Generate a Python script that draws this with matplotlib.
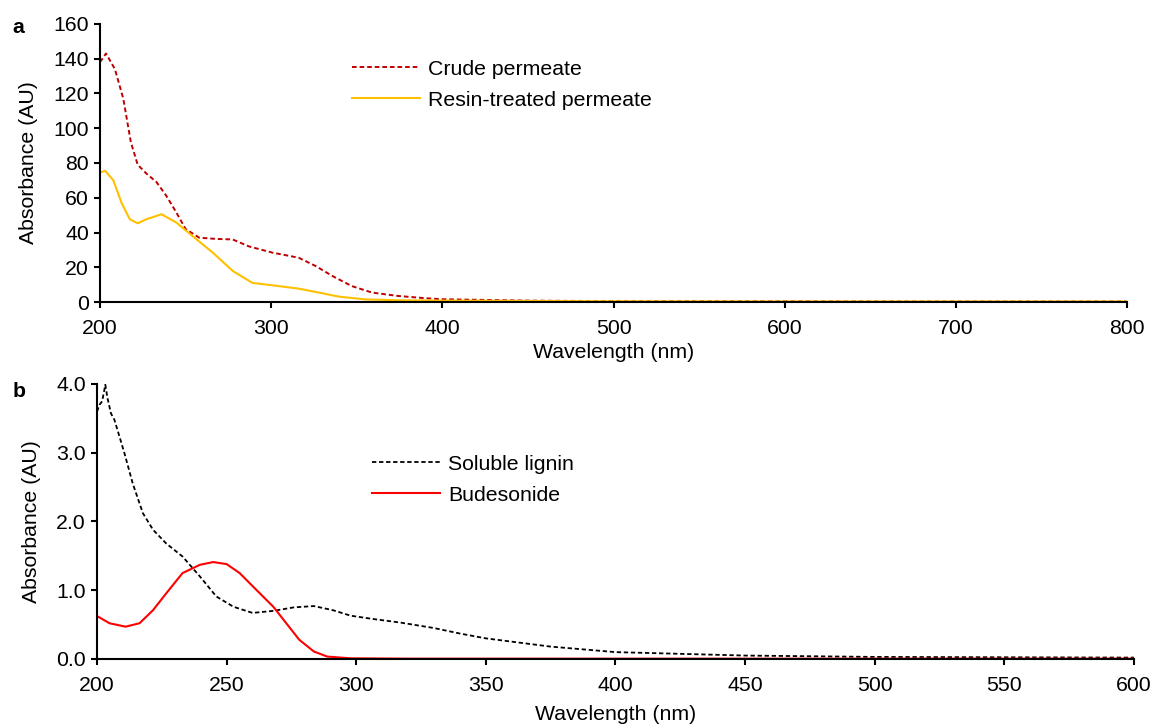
import matplotlib
matplotlib.use("Agg")
import matplotlib.pyplot as plt

plt.rcParams['font.family'] = ['Liberation Sans', 'DejaVu Sans']

# panel a
wl_crude = [200, 203.5, 208.7, 213.6, 218, 222, 227, 233, 238.8, 244.6, 250, 258, 268, 277.5,
            287, 300.8, 316, 326, 335.7, 347, 359, 374, 390, 400, 450, 500, 600, 700, 800]
crude = [138, 143, 134, 117, 92, 79, 74, 69, 61, 51.5, 42, 37, 36.3, 36, 32, 28.4, 25.5, 20.7,
         15, 9.2, 5.4, 3.5, 2.2, 1.6, 0.8, 0.5, 0.4, 0.3, 0.3]
wl_resin = [200, 203, 207.8, 212.6, 217.4, 222, 227, 235.9, 244.6, 254, 265.9, 277.5, 289,
            300.8, 316, 328, 339.5, 355, 375, 400, 500, 600, 700, 800]
resin = [74.5, 75.5, 70, 57, 47.6, 45.3, 47.6, 50.5, 45.7, 38, 28.4, 17.9, 11, 9.6, 7.7, 5.4,
         3.1, 1.5, 1.0, 0.8, 0.4, 0.3, 0.3, 0.3]

# panel b
wl_lignin = [200, 201, 202, 203.2, 204, 205.4, 206.7, 208.7, 210.6, 213.8, 217.7, 221.6, 226.7,
             233, 239.7, 246, 252.6, 260, 268, 275.8, 283.6, 291, 297.8, 306.8, 317, 330, 340,
             350, 375, 400, 450, 500, 600]
lignin = [3.6, 3.7, 3.75, 3.99, 3.8, 3.57, 3.48, 3.23, 2.99, 2.55, 2.12, 1.88, 1.68, 1.49, 1.2,
          0.91, 0.76, 0.67, 0.70, 0.75, 0.77, 0.71, 0.63, 0.58, 0.53, 0.45, 0.37, 0.3, 0.18,
          0.1, 0.05, 0.03, 0.02]
wl_bud = [200, 204.8, 211, 216.4, 221.6, 226.7, 233, 239.7, 244.8, 250, 255, 261.6, 268, 273,
          278, 283.6, 288.8, 297.8, 320, 400, 600]
bud = [0.625, 0.52, 0.47, 0.52, 0.71, 0.955, 1.25, 1.37, 1.41, 1.38, 1.25, 1.0, 0.76, 0.52,
       0.28, 0.11, 0.035, 0.01, 0.005, 0.005, 0.005]

FS = 15.3

fig = plt.figure(figsize=(11.55, 7.26), dpi=100)
ax1 = fig.add_axes([0.0866, 0.584, 0.8892, 0.383])
ax2 = fig.add_axes([0.084, 0.0923, 0.8978, 0.3788])

ax1.plot(wl_crude, crude, color='#C00000', ls=(0, (2.4, 1.5)), lw=1.4, label='Crude permeate')
ax1.plot(wl_resin, resin, color='#FFC000', lw=1.5, label='Resin-treated permeate')
ax1.set_xlim(200, 800)
ax1.set_ylim(0, 160)
ax1.set_xticks(range(200, 801, 100))
ax1.set_yticks(range(0, 161, 20))
ax1.set_xlabel('Wavelength (nm)', fontsize=FS, labelpad=3.6)
ax1.set_ylabel('Absorbance (AU)', fontsize=FS, labelpad=11)
ax1.legend(loc='upper left', bbox_to_anchor=(0.2263, 0.94), frameon=False, fontsize=FS,
           handlelength=3.2, handletextpad=0.38, labelspacing=0.56)

ax2.plot(wl_lignin, lignin, color='black', ls=(0, (2.4, 1.5)), lw=1.3, label='Soluble lignin')
ax2.plot(wl_bud, bud, color='#FF0000', lw=1.5, label='Budesonide')
ax2.set_xlim(200, 600)
ax2.set_ylim(0, 4.0)
ax2.set_xticks(range(200, 601, 50))
ax2.set_yticks([0, 1, 2, 3, 4])
ax2.set_yticklabels(['0.0', '1.0', '2.0', '3.0', '4.0'])
ax2.set_xlabel('Wavelength (nm)', fontsize=FS, labelpad=7)
ax2.set_ylabel('Absorbance (AU)', fontsize=FS, labelpad=11)
ax2.legend(loc='upper left', bbox_to_anchor=(0.247, 0.812), frameon=False, fontsize=FS,
           handlelength=3.2, handletextpad=0.38, labelspacing=0.56)

for ax in (ax1, ax2):
    for s in ('top', 'right'):
        ax.spines[s].set_visible(False)
    for s in ('left', 'bottom'):
        ax.spines[s].set_linewidth(1.5)
    ax.tick_params(axis='both', labelsize=FS, width=1.5, length=4.5, direction='out')
    ax.tick_params(axis='x', pad=8)

fig.text(0.0105, 1 - 33 / 726, 'a', fontsize=FS, fontweight='bold', va='baseline')
fig.text(0.0105, 1 - 397 / 726, 'b', fontsize=FS, fontweight='bold', va='baseline')

fig.savefig('out.png', dpi=100)
